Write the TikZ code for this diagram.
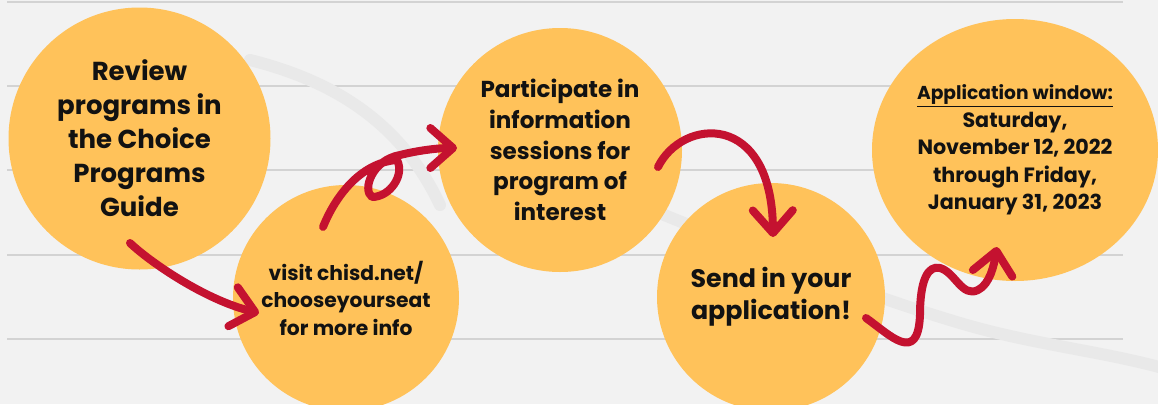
\documentclass[tikz,border=0pt]{standalone}
\usepackage{fontspec}
\setmainfont{Poppins}
\usetikzlibrary{arrows.meta,shapes.geometric}

\definecolor{discyellow}{HTML}{FFC25A}
\definecolor{arrowred}{HTML}{C41230}
\definecolor{paper}{HTML}{F2F2F2}
\definecolor{ruleline}{HTML}{D3D3D3}
\definecolor{swoosh}{HTML}{E9E9E9}

\tikzset{
	disc/.style={circle,fill=discyellow,inner sep=0pt,align=center,text=black!93},
	redarrow/.style={arrowred,line width=6pt,line cap=round,line join=round,
		-{Straight Barb[length=17pt,width=30pt,round]}},
}

\begin{document}
\begin{tikzpicture}[x=0.75pt,y=-0.75pt]
	\useasboundingbox (0,0) rectangle (1158,404);
	\clip (0,0) rectangle (1158,404);
	\fill[paper] (0,0) rectangle (1158,404); % paper

	\foreach \y in {2,86,170,255,339}
		\draw[ruleline,line width=1.5pt] (7,\y) -- (1123,\y); % ruled lines

	\draw[swoosh,line width=9pt,line cap=round] (250,60) .. controls (330,80) and (400,120) .. (440,205); % faint brush mark
	\draw[swoosh,line width=9pt,line cap=round] (640,205) .. controls (700,230) and (850,290) .. (950,320) .. controls (1030,345) and (1100,350) .. (1170,370);

	\node[disc,minimum size=196.5pt,font=\bfseries\fontsize{19.5pt}{25.5pt}\selectfont] (review) at (139.5,138.5)
		{Review\\programs in\\the Choice\\Programs\\Guide};
	\node[disc,minimum size=169.5pt,font=\bfseries\fontsize{15.2pt}{20.6pt}\selectfont] (visit) at (346,298)
		{visit chisd.net/\\chooseyourseat\\for more info};
	\node[disc,minimum size=183pt,font=\bfseries\fontsize{17.3pt}{23pt}\selectfont] (sessions) at (560,150)
		{Participate in\\information\\sessions for\\program of\\interest};
	\node[disc,minimum size=171pt,font=\bfseries\fontsize{19pt}{24pt}\selectfont] (apply) at (771,297)
		{Send in your\\application!};
	\node[disc,ellipse,minimum width=214.5pt,minimum height=196.5pt,font=\bfseries\fontsize{15.5pt}{20.6pt}\selectfont] (window) at (1015,150)
		{{\fontsize{14pt}{20.6pt}\selectfont\underline{Application window:}}\\Saturday,\\November 12, 2022\\through Friday,\\January 31, 2023};

	% arrow ends
	\coordinate (r1) at (130,243);
	\coordinate (r2) at (259,313);
	\coordinate (v1) at (323,227);
	\coordinate (v2) at (457,148);
	\coordinate (s1) at (658,167);
	\coordinate (s2) at (773,237);
	\coordinate (a1) at (866,318);
	\coordinate (a2) at (997,247);

	\draw[redarrow] (r1) .. controls (150,262) and (205,300) .. (r2); % review -> visit
	\draw[redarrow] (v1) .. controls (338,190) and (365,162) .. (397,160)
		.. controls (405,175) and (390,197) .. (372,197)
		.. controls (362,190) and (372,160) .. (400,155)
		.. controls (420,150) and (440,148) .. (v2); % visit -> sessions, with loop
	\draw[redarrow] (s1) .. controls (682,118) and (772,110) .. (s2); % sessions -> apply
	\draw[redarrow] (a1) .. controls (890,335) and (918,365) .. (920,315)
		.. controls (920,280) and (928,265) .. (940,268)
		.. controls (955,272) and (962,298) .. (978,290)
		.. controls (990,284) and (994,265) .. (a2); % apply -> window, wavy
\end{tikzpicture}
\end{document}
